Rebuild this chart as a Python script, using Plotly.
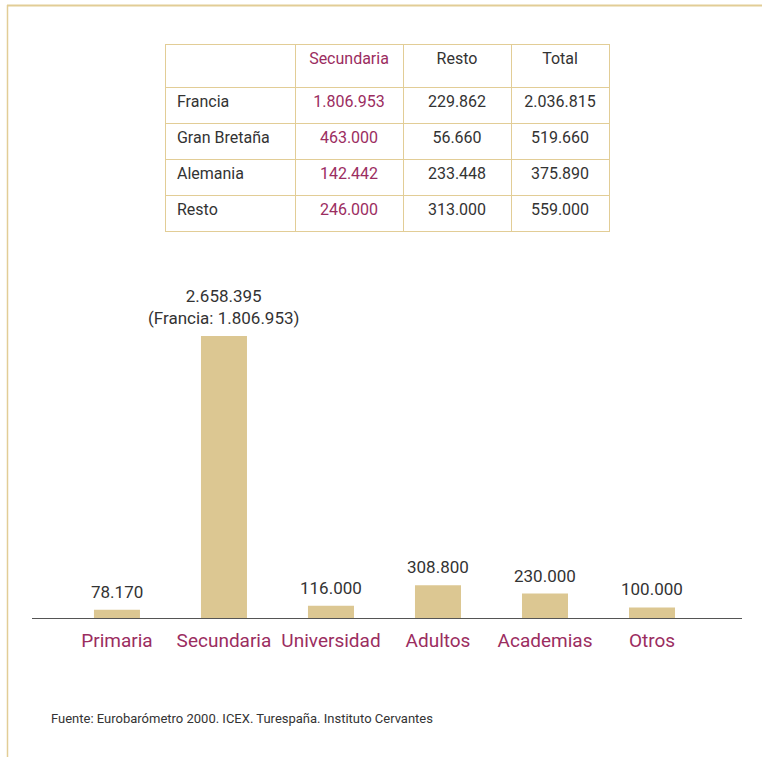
import plotly.graph_objects as go

W, H = 762, 757

categories = ["Primaria", "Secundaria", "Universidad", "Adultos", "Academias", "Otros"]
values = [78170, 2658395, 116000, 308800, 230000, 100000]
value_labels = ["78.170", "2.658.395<br>(Francia: 1.806.953)", "116.000", "308.800", "230.000", "100.000"]

table_header = ["", "Secundaria", "Resto", "Total"]
countries = ["Francia", "Gran Bretaña", "Alemania", "Resto"]
secundaria = ["1.806.953", "463.000", "142.442", "246.000"]
resto = ["229.862", "56.660", "233.448", "313.000"]
total = ["2.036.815", "519.660", "375.890", "559.000"]

source = "Fuente: Eurobarómetro 2000. ICEX. Turespaña. Instituto Cervantes"

FONT = "Roboto, Liberation Sans Narrow, sans-serif"
MAROON = "#9b2d5f"
TXT = "#333333"
TAN = "#dcc792"
LINE = "#e2cd96"

fig = go.Figure()

fig.add_trace(go.Bar(
    x=categories, y=values, width=0.43,
    marker=dict(color=TAN, line=dict(width=0)),
    hoverinfo="skip",
))

fig.add_trace(go.Table(
    domain=dict(x=[165 / W, 609 / W], y=[(H - 236) / H, (H - 44) / H]),
    columnwidth=[130, 108, 108, 98],
    header=dict(
        values=table_header,
        align=["left", "center", "center", "center"],
        height=43,
        fill_color="white",
        line=dict(color=LINE, width=1),
        font=dict(family=FONT, size=16, color=[TXT, MAROON, TXT, TXT]),
    ),
    cells=dict(
        values=[[" " + c for c in countries], secundaria, resto, total],
        align=["left", "center", "center", "center"],
        height=36,
        fill_color="white",
        line=dict(color=LINE, width=1),
        font=dict(family=FONT, size=16, color=[TXT, MAROON, TXT, TXT]),
    ),
))

x_left, x_right = 32, 742
y_top, y_base = 280, 618

annotations = [dict(
    x=c, y=v, xref="x", yref="y", text=t, showarrow=False,
    xanchor="center", yanchor="bottom", yshift=6,
    font=dict(family=FONT, size=17, color=TXT),
) for c, v, t in zip(categories, values, value_labels)]

annotations.append(dict(
    text=source, xref="paper", yref="paper",
    x=49 / W, y=(H - 718) / H, xanchor="left", yanchor="middle",
    showarrow=False, font=dict(family=FONT, size=13, color=TXT),
))

fig.update_layout(
    width=W, height=H,
    margin=dict(l=0, r=0, t=0, b=0, pad=0),
    paper_bgcolor="white", plot_bgcolor="white",
    showlegend=False,
    xaxis=dict(
        domain=[x_left / W, x_right / W],
        range=[-0.794, 5.841],
        showline=True, linecolor="#555555", linewidth=1,
        showgrid=False, zeroline=False, ticks="",
        tickfont=dict(family=FONT, size=19, color=MAROON),
        ticklabelstandoff=5,
        automargin=False,
    ),
    yaxis=dict(
        domain=[(H - y_base) / H, (H - y_top) / H],
        range=[0, 2658395 * (y_base - y_top) / 282],
        visible=False, automargin=False,
    ),
    annotations=annotations,
    shapes=[
        dict(type="line", xref="paper", yref="paper", x0=7 / W, x1=1, y0=(H - 5.5) / H, y1=(H - 5.5) / H,
             line=dict(color=LINE, width=2)),
        dict(type="line", xref="paper", yref="paper", x0=7.5 / W, x1=7.5 / W, y0=0, y1=(H - 5) / H,
             line=dict(color=LINE, width=1.5)),
    ],
)

fig.write_html("out.html", config={"displayModeBar": False},
               post_script="document.body.style.margin='0';")
